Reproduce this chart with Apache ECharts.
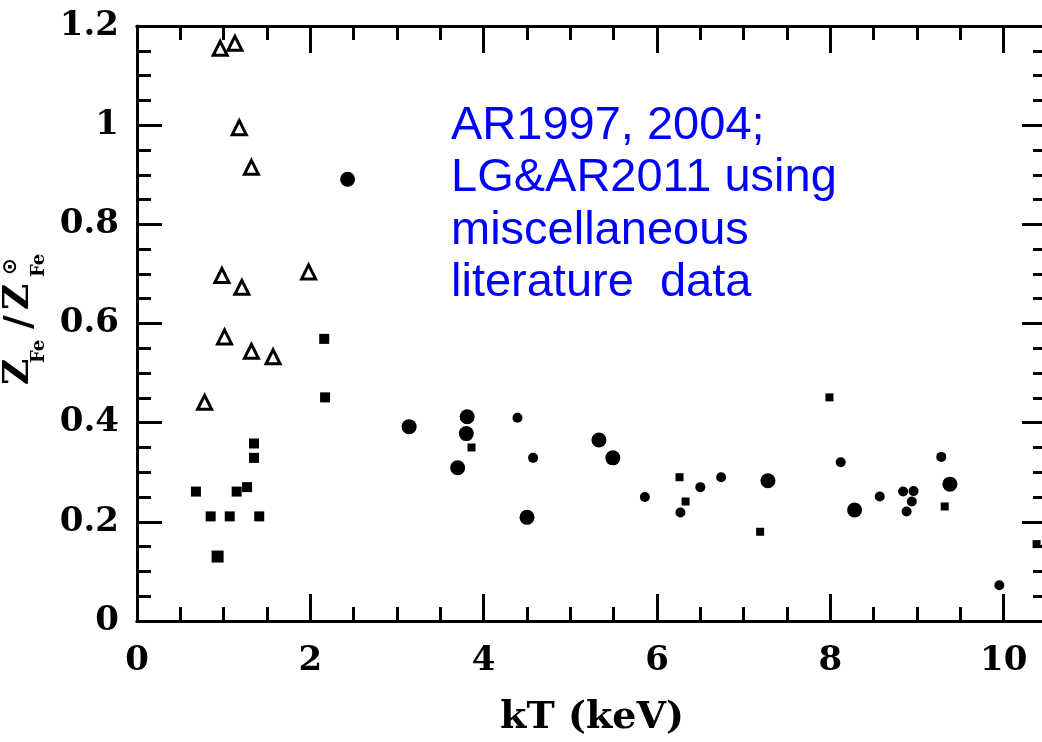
<!DOCTYPE html>
<html><head><meta charset="utf-8">
<script src="https://cdn.jsdelivr.net/npm/echarts@6/dist/echarts.min.js"></script>
<style>
html,body{margin:0;padding:0;overflow:hidden;background:#fff;width:1042px;height:742px}
#c{width:1050px;height:742px}
</style></head>
<body><div id="c"></div>
<script>
// Tick labels
const xTickLabels = ['0', '2', '4', '6', '8', '10'];
const yTickLabels = ['0', '0.2', '0.4', '0.6', '0.8', '1', '1.2'];

// Open triangles
const triKT = [0.96, 1.13, 1.18, 1.32, 0.98, 1.21, 1.98, 1.01, 1.32, 1.57, 0.78];
const triZ  = [1.155, 1.165, 0.995, 0.915, 0.697, 0.673, 0.704, 0.573, 0.544, 0.533, 0.441];

// Filled squares (low-temperature group)
const sqKT = [2.16, 2.17, 1.35, 1.35, 0.68, 1.15, 1.27, 0.85, 1.07, 1.41];
const sqZ  = [0.569, 0.451, 0.358, 0.329, 0.261, 0.261, 0.270, 0.211, 0.211, 0.211];
const bigSqKT = [0.93];
const bigSqZ  = [0.130];

// Large filled circles
const bcKT = [2.43, 3.14, 3.81, 3.80, 3.70, 4.50, 5.33, 5.49, 7.28, 8.28, 9.38];
const bcZ  = [0.891, 0.392, 0.412, 0.378, 0.309, 0.209, 0.365, 0.329, 0.283, 0.224, 0.276];

// Small filled circles
const scKT = [4.39, 4.57, 5.86, 6.50, 6.27, 6.74, 8.12, 8.57, 8.84, 8.96, 8.94, 8.88, 9.28, 9.95];
const scZ  = [0.410, 0.329, 0.250, 0.270, 0.219, 0.290, 0.320, 0.251, 0.261, 0.262, 0.241, 0.221, 0.331, 0.072];

// Small filled squares
const ssKT = [3.86, 6.26, 6.33, 7.19, 7.99, 9.32, 10.38];
const ssZ  = [0.350, 0.290, 0.241, 0.180, 0.451, 0.231, 0.155];

const noteLines = ['AR1997, 2004;', 'LG&AR2011 using', 'miscellaneous', 'literature  data'];

const pairs = (xs, ys) => xs.map((x, i) => [x, ys[i]]);

const serifFont = 'DejaVu Serif';
const lineStyle = { color: '#000', width: 3 };

function xAx(pos, interval, len, labels) {
  return {
    type: 'value', position: pos, min: 0, max: 10.5, interval: interval,
    axisLine: { show: true, onZero: false, lineStyle: lineStyle },
    axisTick: { show: true, inside: true, length: len, lineStyle: lineStyle },
    axisLabel: labels ? {
      show: true, margin: 23, showMaxLabel: false,
      fontFamily: serifFont, fontWeight: 'bold', fontSize: 34, color: '#000',
      formatter: v => { const i = Math.round(v / 2); return Math.abs(v - i * 2) < 1e-6 ? (xTickLabels[i] || '') : ''; }
    } : { show: false },
    splitLine: { show: false },
    name: labels ? 'kT (keV)' : '',
    nameLocation: 'middle', nameGap: 78,
    nameTextStyle: { fontFamily: serifFont, fontWeight: 'bold', fontSize: 38, color: '#000' }
  };
}
function yAx(pos, labels) {
  return {
    type: 'value', position: pos, min: 0, max: 1.2, interval: 0.2,
    axisLine: { show: true, onZero: false, lineStyle: lineStyle },
    axisTick: { show: true, inside: true, length: 25, lineStyle: lineStyle },
    minorTick: { show: true, splitNumber: 4, length: 14, lineStyle: lineStyle },
    axisLabel: labels ? {
      show: true, margin: 18,
      fontFamily: serifFont, fontWeight: 'bold', fontSize: 34, color: '#000',
      formatter: v => yTickLabels[Math.round(v / 0.2)] || ''
    } : { show: false },
    splitLine: { show: false }, minorSplitLine: { show: false }
  };
}

const chart = echarts.init(document.getElementById('c'), null, { renderer: 'canvas' });
const blackFill = { color: '#000', opacity: 1 };

chart.setOption({
  animation: false,
  backgroundColor: '#fff',
  grid: { left: 137, top: 26, width: 910, height: 597, show: false },
  xAxis: [
    xAx('bottom', 2, 27, true),
    xAx('bottom', 0.5, 14, false),
    xAx('top', 2, 27, false),
    xAx('top', 0.5, 14, false)
  ],
  yAxis: [yAx('left', true), yAx('right', false)],
  series: [
    { type: 'scatter', name: 'triangles', data: pairs(triKT, triZ), symbol: 'triangle', symbolSize: 14,
      itemStyle: { color: '#fff', borderColor: '#000', borderWidth: 3, opacity: 1 } },
    { type: 'scatter', name: 'squares', data: pairs(sqKT, sqZ), symbol: 'rect', symbolSize: 10, itemStyle: blackFill },
    { type: 'scatter', name: 'bigSquare', data: pairs(bigSqKT, bigSqZ), symbol: 'rect', symbolSize: 12, itemStyle: blackFill },
    { type: 'scatter', name: 'bigCircles', data: pairs(bcKT, bcZ), symbol: 'circle', symbolSize: 15, itemStyle: blackFill },
    { type: 'scatter', name: 'smallCircles', data: pairs(scKT, scZ), symbol: 'circle', symbolSize: 10, itemStyle: blackFill },
    { type: 'scatter', name: 'smallSquares', data: pairs(ssKT, ssZ), symbol: 'rect', symbolSize: 8, itemStyle: blackFill }
  ],
  graphic: [
    {
      type: 'text', left: 451, top: 100,
      style: { text: noteLines.join('\n'), fill: '#0000ff', font: '47px "Liberation Sans"', lineHeight: 52.3 }
    },
    {
      type: 'group', x: 32, y: 322, rotation: Math.PI / 2,
      children: [
        { type: 'text', x: -63, y: -13, style: { text: 'Z', fill: '#000', font: 'bold 36px "DejaVu Serif"', align: 'left', verticalAlign: 'middle' } },
        { type: 'text', x: -41, y: 7, style: { text: 'Fe', fill: '#000', font: 'bold 18px "DejaVu Serif"', align: 'left', verticalAlign: 'middle' } },
        { type: 'text', x: 0, y: -12, style: { text: '/', fill: '#000', font: 'bold 38px "DejaVu Serif"', align: 'center', verticalAlign: 'middle' } },
        { type: 'text', x: 12, y: -13, style: { text: 'Z', fill: '#000', font: 'bold 36px "DejaVu Serif"', align: 'left', verticalAlign: 'middle' } },
        { type: 'text', x: 47, y: -21, style: { text: '⊙', fill: '#000', font: 'bold 20px "DejaVu Sans"', align: 'left', verticalAlign: 'middle' } },
        { type: 'text', x: 45, y: 7, style: { text: 'Fe', fill: '#000', font: 'bold 18px "DejaVu Serif"', align: 'left', verticalAlign: 'middle' } }
      ]
    }
  ]
});
</script>
</body></html>
